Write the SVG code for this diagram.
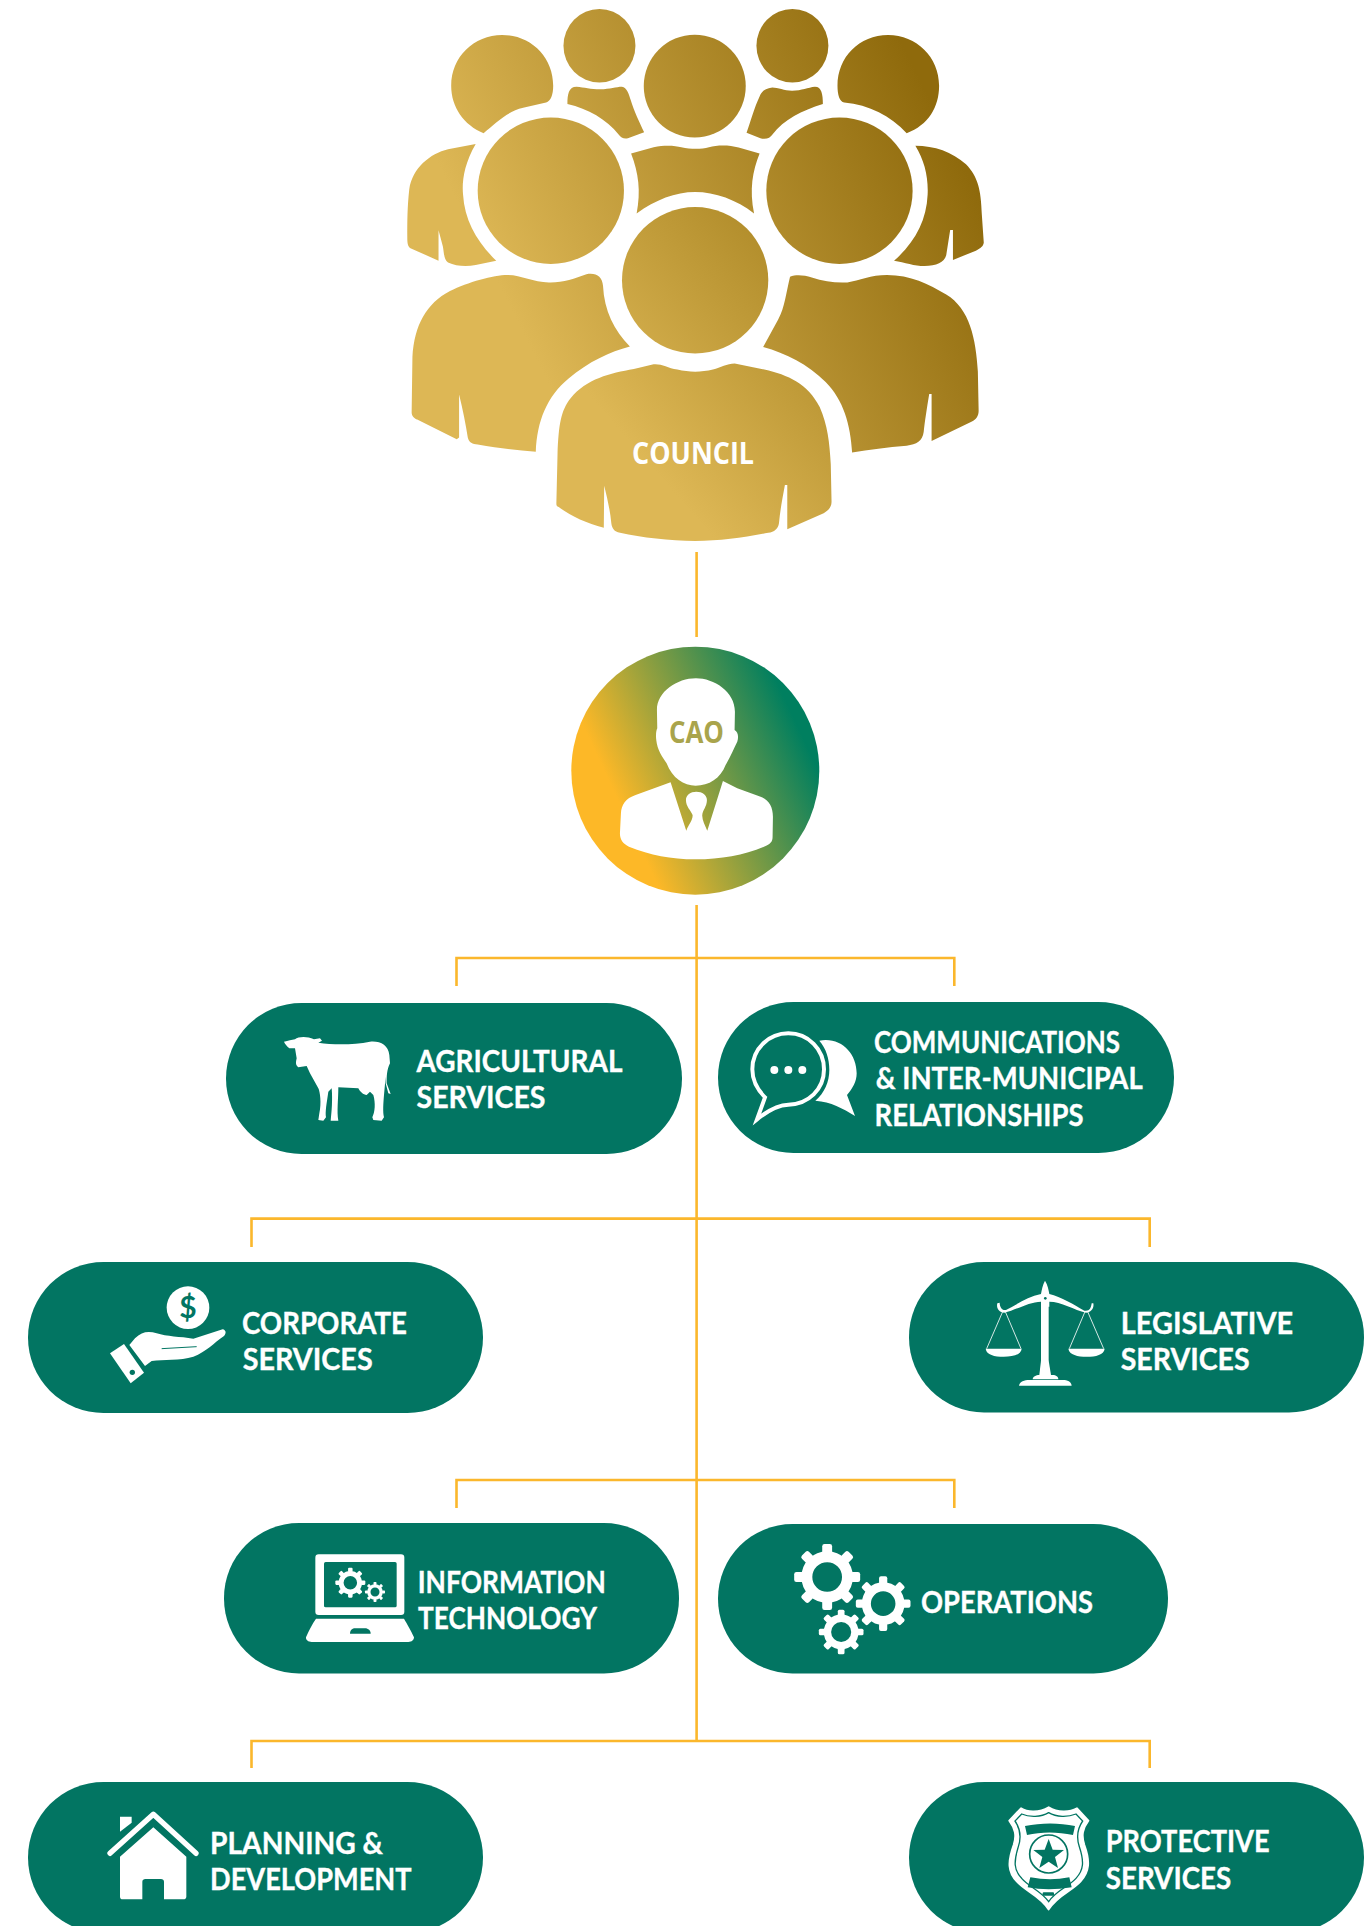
<svg xmlns="http://www.w3.org/2000/svg" width="1369" height="1926" viewBox="0 0 1369 1926">
<style>
.pill{fill:#027562}
.w{fill:#fff}
.g{fill:#027562}
.lbl{font-family:"Lato","Open Sans","Liberation Sans",sans-serif;font-weight:700;font-size:31px;fill:#fff;stroke:#fff;stroke-width:.35}
.conn{fill:none;stroke:#FBB72C;stroke-width:2.6}
.gold{fill:url(#goldG)}
.front{fill:url(#frontG)}
</style>
<defs>
<linearGradient id="goldG" gradientUnits="userSpaceOnUse" x1="300" y1="800" x2="1400" y2="300">
<stop offset="0" stop-color="#DDB755"/><stop offset="1" stop-color="#8F6A0C"/>
</linearGradient>
<linearGradient id="frontG" gradientUnits="userSpaceOnUse" x1="600" y1="1200" x2="1300" y2="650">
<stop offset="0" stop-color="#DDB755"/><stop offset="1" stop-color="#A07C1A"/>
</linearGradient>
<linearGradient id="caoG" gradientUnits="userSpaceOnUse" x1="623.9" y1="813.3" x2="800" y2="731">
<stop offset="0" stop-color="#FDB827"/><stop offset="1" stop-color="#007F5F"/>
</linearGradient>
<rect id="tooth" x="-15" y="-100" width="30" height="30" rx="7" fill="#fff"/>
<g id="gear">
<circle r="61.5" fill="none" stroke="#fff" stroke-width="33"/>
<use href="#tooth"/><use href="#tooth" transform="rotate(45)"/><use href="#tooth" transform="rotate(90)"/><use href="#tooth" transform="rotate(135)"/><use href="#tooth" transform="rotate(180)"/><use href="#tooth" transform="rotate(225)"/><use href="#tooth" transform="rotate(270)"/><use href="#tooth" transform="rotate(315)"/>
</g>
</defs>
<rect width="1369" height="1926" fill="#fff"/>

<g id="connectors" class="conn">
<path d="M696.6 552V637"/>
<path d="M696.6 905V1741"/>
<path d="M456.5 986V958H954.3V986"/>
<path d="M251.5 1247V1218.6H1149.7V1247"/>
<path d="M456.5 1508V1480H954.3V1508"/>
<path d="M251.5 1768V1741H1149.7V1768"/>
</g>

<g id="council">
<g transform="translate(380.8 0) scale(0.3954 0.3571)">
<path class="gold" d="M260 373C210 350 178 300 178 240C178 160 235 98 307 98C380 98 436 160 436 240C436 265 430 283 418 287L360 302C320 312 290 345 260 373Z"/>
<ellipse class="gold" cx="553" cy="128" rx="91" ry="103"/>
<ellipse class="gold" cx="1041" cy="128" rx="91" ry="103"/>
<ellipse class="gold" cx="794" cy="241" rx="129" ry="144"/>
<path class="gold" d="M1330 373C1385 350 1412 300 1412 240C1412 160 1355 98 1283 98C1210 98 1155 160 1155 240C1155 265 1160 285 1172 287C1235 293 1290 325 1330 373Z"/>
<path class="gold" d="M472 291C472 265 475 243 495 243C515 245 530 250 555 250C580 250 595 243 610 243C622 245 628 265 632 280C640 310 655 345 666 370L625 387C615 390 607 385 602 377C570 333 525 305 472 291Z"/>
<path class="gold" d="M1118 291C1118 265 1115 243 1098 243C1080 245 1065 254 1040 254C1020 254 1005 245 990 245C970 248 962 258 958 270C945 300 935 340 925 372L960 387C975 392 985 385 990 377C1020 333 1065 310 1118 291Z"/>
<path class="gold" d="M633 430L690 412C720 405 745 408 760 412C785 418 810 418 830 412C850 406 880 405 905 413L958 430C940 480 932 530 944 598C900 560 845 538 795 538C745 538 695 560 647 598C658 535 652 485 633 430Z"/>
<ellipse class="gold" cx="430" cy="534" rx="185" ry="205"/>
<ellipse class="gold" cx="1160" cy="534" rx="185" ry="205"/>
<path class="gold" d="M240 403C210 460 205 510 208 545C212 620 245 680 292 730L240 742C215 748 190 745 170 735C160 728 160 710 157 690L146 645L146 730L75 695C68 690 67 680 67 665C67 620 67 580 72 530C80 470 125 430 170 418Z"/>
<path class="gold" d="M1352 408C1400 408 1445 425 1480 460C1510 495 1518 530 1520 600L1525 680C1523 690 1518 695 1505 702L1447 728L1447 644L1440 644L1430 715C1425 735 1405 745 1375 745C1350 745 1325 735 1298 730C1350 680 1380 620 1383 545C1385 495 1375 450 1352 408Z"/>
<path class="gold" d="M392 1265C395 1180 420 1110 475 1060C525 1012 580 985 630 970C590 925 565 870 562 800C560 775 545 763 520 768C490 780 460 792 425 791C385 790 355 770 320 770C285 770 220 790 175 815C115 850 85 910 80 1000L78 1155C78 1165 85 1172 92 1175L192 1230L198 1225L198 1105C208 1150 215 1190 220 1225C223 1240 232 1243 245 1245C300 1255 345 1262 392 1265Z"/>
<path class="gold" d="M967 972L1005 895C1022 860 1025 820 1035 775C1050 768 1070 770 1090 777C1120 788 1150 793 1180 791C1210 785 1240 770 1280 770C1340 770 1385 795 1430 825C1490 865 1505 950 1510 1040L1512 1150C1512 1165 1505 1175 1495 1180L1393 1235L1393 1103L1387 1103C1380 1150 1376 1180 1373 1210C1370 1235 1355 1245 1330 1248C1280 1252 1235 1260 1192 1267C1188 1190 1170 1120 1125 1070C1080 1020 1025 990 967 972Z"/>
<ellipse class="front" cx="795" cy="785" rx="185" ry="205"/>
<path class="front" d="M444 1410L447 1270C450 1190 455 1150 480 1115C520 1060 580 1045 640 1033L690 1020C710 1018 725 1030 750 1035C780 1043 810 1043 840 1035C860 1030 875 1018 895 1018L970 1035C1030 1050 1080 1075 1110 1140C1130 1190 1135 1240 1138 1300L1140 1405C1140 1420 1132 1430 1120 1437L1028 1482L1028 1358L1022 1358C1015 1400 1010 1430 1007 1465C1005 1480 995 1490 980 1492C920 1505 860 1515 795 1515C730 1515 660 1505 605 1492C590 1488 585 1480 583 1465C580 1430 573 1395 565 1360L564 1478C520 1465 480 1445 450 1420C445 1418 444 1415 444 1410Z"/>
</g>
<text x="632" y="463.5" textLength="122" lengthAdjust="spacingAndGlyphs" style="font-family:'Open Sans','Liberation Sans',sans-serif;font-weight:700;font-size:30.5px;fill:#fff">COUNCIL</text>
</g>

<g id="cao">
<circle cx="695.3" cy="770.7" r="124" fill="url(#caoG)"/>
<g transform="translate(540.6 620) scale(0.33333)" class="w">
<path d="M466 175C520 175 583 215 583 275L582 330C592 335 595 350 590 365C580 385 570 410 555 435C540 475 505 497 465 497C430 497 395 475 378 430C365 410 350 390 347 360C345 345 347 330 350 325L349 270C349 215 410 175 466 175Z"/>
<path d="M390 487L437 632C445 612 457 600 456 585C450 570 436 560 436 540C436 525 450 515 467 515C485 515 499 525 499 540C499 560 486 570 485 585C484 600 493 615 500 632L547 483L590 505L660 530C685 540 697 560 697 590L696 650C696 665 690 672 670 680C610 705 540 718 465 718C390 718 330 705 265 680C248 672 238 660 238 640L241 580C242 555 255 535 285 525Z"/>
</g>
<text x="669" y="742.7" textLength="55" lengthAdjust="spacingAndGlyphs" style="font-family:'Open Sans','Liberation Sans',sans-serif;font-weight:700;font-size:30.5px;fill:#A9A44C">CAO</text>
</g>

<g id="agricultural">
<rect class="pill" x="226" y="1003" width="456" height="151" rx="75.5"/>
<path class="w" transform="translate(210 980) scale(0.33333)" d="M222 185C235 182 245 180 255 178C265 170 290 168 312 178L330 175L336 182L325 188C370 195 430 195 480 185C510 182 535 195 538 225L540 250C530 270 530 290 530 310L542 342L535 340L527 310L527 290L522 345C520 370 518 395 522 412L515 422L490 420L487 412C495 395 497 370 490 345L480 335L470 345C460 345 450 335 445 325L385 322C385 360 380 395 385 422L362 422C365 395 368 360 365 325L355 335C350 370 345 395 348 412L340 422L325 420L328 400C335 370 330 335 325 325L300 280L290 258L265 262C255 255 258 245 260 235L255 205L238 205C230 198 225 192 222 185Z"/>
<text class="lbl" x="416.5" y="1071.7" textLength="206" lengthAdjust="spacingAndGlyphs">AGRICULTURAL</text>
<text class="lbl" x="416.5" y="1108" textLength="129" lengthAdjust="spacingAndGlyphs">SERVICES</text>
</g>

<g id="communications">
<rect class="pill" x="718" y="1002" width="456" height="151" rx="75.5"/>
<g transform="translate(701 980) scale(0.33333)">
<path d="M168 418L192 352C168 328 154 298 154 268C154 205 205 160 262 160C322 160 369 208 369 268C369 328 322 373 262 374C230 375 200 392 168 418Z" fill="none" stroke="#fff" stroke-width="12"/>
<circle class="w" cx="220" cy="270" r="12"/><circle class="w" cx="262" cy="270" r="12"/><circle class="w" cx="304" cy="270" r="12"/>
<path class="w" d="M355 182C420 170 467 220 467 280C467 305 455 325 438 345L462 408C425 385 390 365 343 362C370 340 385 305 385 270C385 235 375 205 355 182Z"/>
</g>
<text class="lbl" x="874" y="1052.7" textLength="246" lengthAdjust="spacingAndGlyphs">COMMUNICATIONS</text>
<text class="lbl" x="875.7" y="1089.4" textLength="267" lengthAdjust="spacingAndGlyphs">&amp; INTER-MUNICIPAL</text>
<text class="lbl" x="874.5" y="1125.7" textLength="209" lengthAdjust="spacingAndGlyphs">RELATIONSHIPS</text>
</g>

<g id="corporate">
<rect class="pill" x="28" y="1262" width="455" height="151" rx="75.5"/>
<g transform="translate(20 1240) scale(0.33333)">
<circle class="w" cx="504" cy="203" r="64"/>
<path class="w" d="M328 315L345 295C365 275 385 272 410 280C440 290 480 290 520 296L608 268C618 270 620 280 612 288C580 310 560 335 520 350C480 362 430 358 395 363L375 378Z"/>
<path d="M425 326L530 320" fill="none" stroke="#027562" stroke-width="3"/>
<path class="w" d="M270 340L312 312L372 398L332 430Z"/>
<circle class="g" cx="337" cy="397" r="8"/>
</g>
<text x="188" y="1318" text-anchor="middle" style="font-family:'Lato','Liberation Sans',sans-serif;font-weight:700;font-size:30px;fill:#027562">$</text>
<text class="lbl" x="242" y="1334" textLength="165" lengthAdjust="spacingAndGlyphs">CORPORATE</text>
<text class="lbl" x="242.7" y="1370" textLength="130" lengthAdjust="spacingAndGlyphs">SERVICES</text>
</g>

<g id="legislative">
<rect class="pill" x="909" y="1262" width="455" height="150.5" rx="75"/>
<g transform="translate(901 1240) scale(0.33333)">
<g class="w">
<rect x="420" y="198" width="23" height="166"/>
<path d="M415 405L420 362L443 362L450 405Z"/>
<path d="M395 418C395 410 405 405 415 405L455 405C465 405 472 410 472 418Z"/>
<path d="M354 437C356 425 370 420 385 420L485 420C500 420 510 425 512 437Z"/>
<path d="M432 122C440 135 443 150 445 162C480 170 520 195 550 212C565 215 570 205 572 190L577 190C580 205 570 218 555 218C520 210 480 185 445 185L445 200L420 200L420 185C385 185 345 210 310 218C295 218 285 205 289 190L296 188C296 203 305 212 315 210C345 195 380 170 420 162C422 150 425 135 432 122Z"/>
<path d="M254 326L362 326C360 345 335 350 308 350C280 350 257 345 254 326Z"/>
<path d="M502 326L611 326C608 345 585 350 557 350C530 350 505 345 502 326Z"/>
</g>
<circle class="g" cx="433" cy="175" r="4"/>
<path d="M305 215L257 326M313 215L360 326M552 215L505 326M560 215L608 326" fill="none" stroke="#fff" stroke-width="2.5"/>
</g>
<text class="lbl" x="1120.7" y="1333.7" textLength="172.5" lengthAdjust="spacingAndGlyphs">LEGISLATIVE</text>
<text class="lbl" x="1120.7" y="1370" textLength="129" lengthAdjust="spacingAndGlyphs">SERVICES</text>
</g>

<g id="information-technology">
<rect class="pill" x="224" y="1523" width="455" height="150.5" rx="75"/>
<g transform="translate(210 1500) scale(0.33333)">
<rect class="w" x="316" y="163" width="267" height="182" rx="10"/>
<rect class="g" x="342" y="186" width="218" height="136" rx="5"/>
<use href="#gear" transform="translate(421 248) scale(0.45)"/>
<use href="#gear" transform="translate(495 276) scale(0.3)"/>
<path class="w" d="M318 356L582 356C590 370 605 395 612 412C612 420 605 426 595 426L305 426C295 426 287 420 288 412C295 395 308 370 318 356Z"/>
<path class="g" d="M420 401C420 390 428 385 435 385L465 385C475 385 482 392 482 401Z"/>
</g>
<text class="lbl" x="417.8" y="1592.7" textLength="188" lengthAdjust="spacingAndGlyphs">INFORMATION</text>
<text class="lbl" x="418" y="1628.7" textLength="179" lengthAdjust="spacingAndGlyphs">TECHNOLOGY</text>
</g>

<g id="operations">
<rect class="pill" x="718" y="1524" width="450" height="149.5" rx="74.5"/>
<g transform="translate(700.5 1500) scale(0.33333)">
<use href="#gear" transform="translate(380 231) scale(0.99)"/>
<use href="#gear" transform="translate(548 311) scale(0.82)"/>
<use href="#gear" transform="translate(422 396) scale(0.67)"/>
</g>
<text class="lbl" x="921" y="1612.7" textLength="172" lengthAdjust="spacingAndGlyphs">OPERATIONS</text>
</g>

<g id="planning">
<rect class="pill" x="28" y="1782" width="455" height="151" rx="75.5"/>
<g transform="translate(20 1760) scale(0.33333)">
<path d="M270 280L400 163L528 280" fill="none" stroke="#fff" stroke-width="16" stroke-linecap="round" stroke-linejoin="round"/>
<path class="w" d="M300 170L335 170L335 188L300 215Z"/>
<path class="w" d="M400 202L499 290L499 410C499 415 495 418 490 418L432 418L432 365C432 360 428 357 423 357L376 357C371 357 367 360 367 365L367 418L308 418C303 418 300 415 300 410L300 290Z"/>
</g>
<text class="lbl" x="210" y="1854.3" textLength="173" lengthAdjust="spacingAndGlyphs">PLANNING &amp;</text>
<text class="lbl" x="210" y="1890" textLength="201.5" lengthAdjust="spacingAndGlyphs">DEVELOPMENT</text>
</g>

<g id="protective">
<rect class="pill" x="909" y="1782" width="455" height="151" rx="75.5"/>
<g transform="translate(1001 1800) scale(0.33333)">
<path class="w" stroke="#fff" stroke-width="6" stroke-linejoin="round" d="M60 25C80 38 115 38 143 22C170 38 205 38 228 25L262 62C245 85 240 105 250 135C268 185 265 215 238 245C210 275 170 285 143 328C115 285 75 275 48 245C20 215 20 185 38 135C48 105 42 85 25 62Z"/>
<path fill="none" stroke="#027562" stroke-width="4" d="M62 42C85 52 120 52 143 38C167 52 200 52 225 42L245 63C230 85 225 110 235 140C250 185 248 210 225 235C200 262 165 272 143 305C120 272 85 262 62 235C38 210 38 185 52 140C62 110 57 85 42 63Z"/>
<path class="g" d="M72 78C120 68 175 68 222 78L216 105C170 95 120 95 78 105Z"/>
<path class="g" d="M88 232C130 240 165 240 205 232L212 262C165 270 120 270 80 262Z"/>
<rect class="g" x="125" y="277" width="34" height="10" rx="3"/>
<circle cx="143" cy="162" r="57" fill="none" stroke="#027562" stroke-width="5"/>
<path class="g" d="M143 117L155 149L189 150L162 171L171 204L143 185L115 204L124 171L97 150L131 149Z"/>
</g>
<text class="lbl" x="1105.7" y="1852.3" textLength="164" lengthAdjust="spacingAndGlyphs">PROTECTIVE</text>
<text class="lbl" x="1105.7" y="1888.5" textLength="125.5" lengthAdjust="spacingAndGlyphs">SERVICES</text>
</g>
</svg>
